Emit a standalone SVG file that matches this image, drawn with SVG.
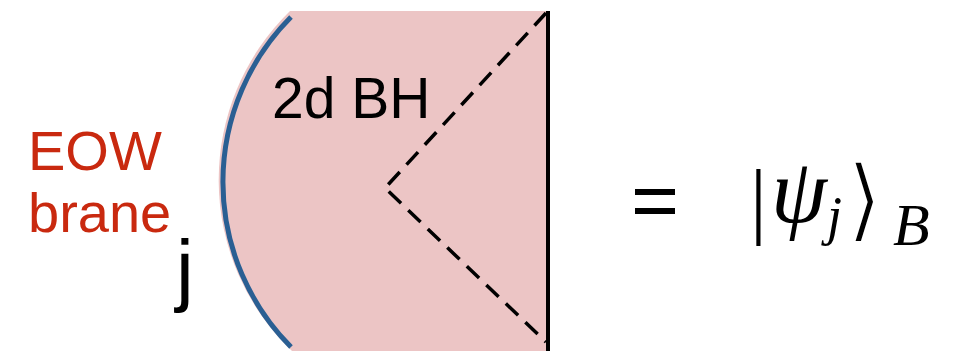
<svg xmlns="http://www.w3.org/2000/svg" width="974" height="351" viewBox="0 0 974 351">
<style>
.sans{font-family:"Liberation Sans",Arial,sans-serif}
.red{fill:#c9290f}
.math{font-family:"Liberation Serif","DejaVu Serif",serif;font-style:italic;fill:#000}
.delim{font-family:"DejaVu Sans",sans-serif;fill:#000;stroke:#fff;stroke-width:2}
.dash{fill:none;stroke:#000;stroke-width:3.5;stroke-dasharray:17 10}
</style>
<rect width="974" height="351" fill="#fff"/>
<g id="bh">
<path d="M290,11 L548,11 L548,351 L292,351 A236,236 0 0 1 290,11 Z" fill="#ecc5c5"/>
<path d="M291,17 A234,234 0 0 0 291,347" fill="none" stroke="#2a5f93" stroke-width="5"/>
<line x1="548" y1="11" x2="548" y2="351" stroke="#000" stroke-width="4"/>
<text class="sans" x="272" y="118" font-size="57">2d BH</text>
</g>
<g id="connectors">
<polyline class="dash" points="546,13 385,188 546,342"/>
</g>
<g id="eow">
<text class="sans red" x="28" y="170" font-size="56">EOW</text>
<text class="sans red" x="28" y="232" font-size="56">brane</text>
<text class="sans" x="176" y="296" font-size="80">j</text>
</g>
<g id="eq">
<rect x="635" y="189" width="40" height="6" fill="#000"/>
<rect x="635" y="208" width="40" height="6" fill="#000"/>
</g>
<g id="state">
<text x="750" y="228" font-family="Liberation Serif,serif" font-size="84">|</text>
<text class="math" x="771" y="222" font-size="90">ψ</text>
<text class="math" x="827" y="234" font-size="54">j</text>
<text class="delim" x="847" y="230" font-size="90">⟩</text>
<text class="math" x="893" y="245" font-size="60">B</text>
</g>
</svg>
